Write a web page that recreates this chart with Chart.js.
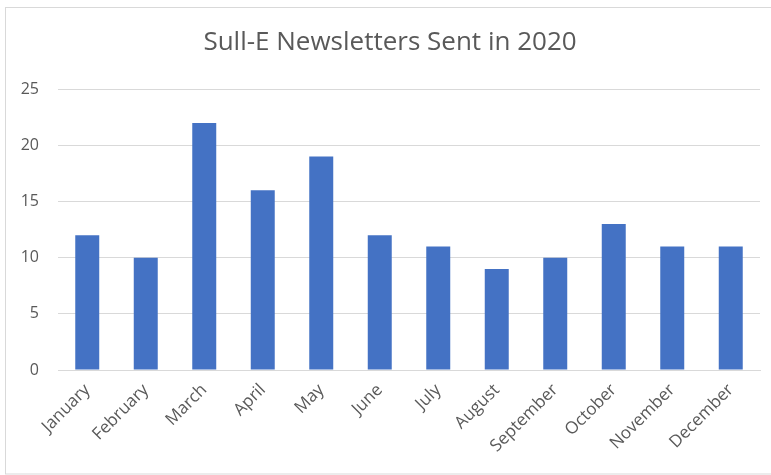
<!DOCTYPE html>
<html>
<head>
<meta charset="utf-8">
<script src="https://cdn.jsdelivr.net/npm/chart.js@4"></script>
<style>
  html, body { margin: 0; padding: 0; background: #fff; }
  #wrap { width: 771px; height: 475px; position: relative; }
</style>
</head>
<body>
<div id="wrap"><canvas id="myChart" width="771" height="475"></canvas></div>
<script>
const months = ['January', 'February', 'March', 'April', 'May', 'June',
    'July', 'August', 'September', 'October', 'November', 'December'];
const sent = [12, 10, 22, 16, 19, 12, 11, 9, 10, 13, 11, 11];
const yTicks = [0, 5, 10, 15, 20, 25];

const ctx = document.getElementById('myChart');
const grey = '#595959';

// light frame round the chart, like the Excel chart area
const frame = {
    id: 'frame',
    beforeDraw(chart) {
        const c = chart.ctx;
        c.save();
        c.fillStyle = '#fff';
        c.fillRect(0, 0, chart.width, chart.height);
        c.strokeStyle = '#d9d9d9';
        c.lineWidth = 1;
        c.strokeRect(5.5, 7.5, chart.width, chart.height - 8.5);
        c.restore();
    }
};

new Chart(ctx, {
    type: 'bar',
    data: {
        labels: months,
        datasets: [{
            label: 'Newsletters',
            data: sent,
            backgroundColor: '#4472C4',
            borderWidth: 0,
            categoryPercentage: 1,
            barPercentage: 0.41
        }]
    },
    options: {
        responsive: false,
        animation: false,
        layout: {
            padding: { left: 20, right: 11, top: 0, bottom: 8 }
        },
        plugins: {
            legend: { display: false },
            tooltip: { enabled: false },
            title: {
                display: true,
                text: 'Sull-E Newsletters Sent in 2020',
                color: grey,
                font: { family: 'Open Sans', size: 26, weight: 'normal' },
                padding: { top: 27, bottom: 31 }
            }
        },
        scales: {
            x: {
                grid: { display: false },
                border: { color: '#d9d9d9', width: 1 },
                ticks: {
                    color: grey,
                    font: { family: 'Open Sans', size: 17 },
                    maxRotation: 45,
                    minRotation: 45,
                    padding: 2
                },
                afterFit: (axis) => { axis.height = 97; }
            },
            y: {
                min: 0,
                max: 25,
                afterBuildTicks: (axis) => {
                    axis.ticks = yTicks.map(v => ({ value: v }));
                },
                grid: {
                    color: '#d9d9d9',
                    drawTicks: false
                },
                border: { display: false },
                ticks: {
                    color: grey,
                    font: { family: 'Open Sans', size: 16 },
                    padding: 19
                },
                afterFit: (axis) => { axis.width = 38; }
            }
        }
    },
    plugins: [frame]
});
</script>
</body>
</html>
